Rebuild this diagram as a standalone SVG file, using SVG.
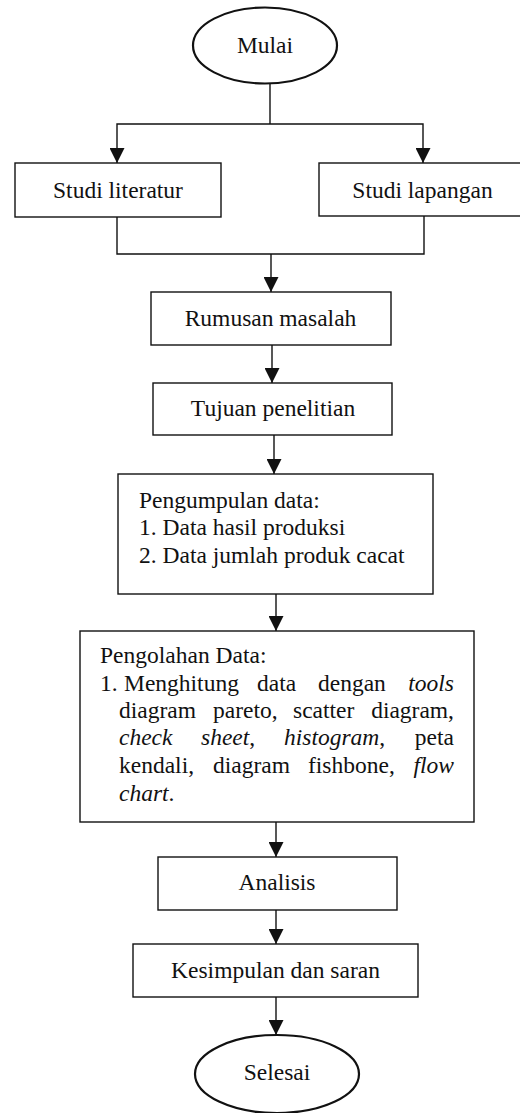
<svg xmlns="http://www.w3.org/2000/svg" width="520" height="1113" viewBox="0 0 520 1113">
<style>
text{font-family:'Liberation Serif','Times New Roman',serif;font-size:23.5px;fill:#111}
.c{text-anchor:middle}
.e{text-anchor:end}
.i{font-style:italic}
.box{fill:#fff;stroke:#111;stroke-width:1.4}
.oval{fill:#fff;stroke:#111;stroke-width:2.2}
.ln{fill:none;stroke:#111;stroke-width:1.4}
.ar{marker-end:url(#ah)}
</style>
<defs>
<marker id="ah" markerUnits="userSpaceOnUse" markerWidth="15" markerHeight="15" refX="15" refY="7.5" orient="auto" viewBox="0 0 15 15">
<path d="M0,0 L15,7.5 L0,15 z" fill="#111"/>
</marker>
</defs>
<rect width="520" height="1113" fill="#fff"/>
<g id="connectors">
<path class="ln" d="M270,83 V124"/>
<path class="ln ar" d="M270,124 H117 V163"/>
<path class="ln ar" d="M270,124 H423 V163"/>
<path class="ln" d="M117,217 V254 H424 V216"/>
<path class="ln ar" d="M271,254 V292"/>
<path class="ln ar" d="M272,345 V383"/>
<path class="ln ar" d="M274,435 V474"/>
<path class="ln ar" d="M276,594 V631"/>
<path class="ln ar" d="M276,822 V857"/>
<path class="ln ar" d="M276,910 V944"/>
<path class="ln ar" d="M276,997 V1035"/>
</g>
<g id="mulai">
<ellipse class="oval" cx="265" cy="45.5" rx="72" ry="38"/>
<text class="c" x="265" y="53">Mulai</text>
</g>
<g id="studi-literatur">
<rect class="box" x="15" y="163" width="206" height="54"/>
<text class="c" x="118" y="198">Studi literatur</text>
</g>
<g id="studi-lapangan">
<rect class="box" x="319" y="163" width="205" height="53"/>
<text class="c" x="422.5" y="198">Studi lapangan</text>
</g>
<g id="rumusan-masalah">
<rect class="box" x="151" y="292" width="240" height="53"/>
<text class="c" x="270.5" y="326">Rumusan masalah</text>
</g>
<g id="tujuan-penelitian">
<rect class="box" x="153" y="383" width="239" height="52"/>
<text class="c" x="273" y="416">Tujuan penelitian</text>
</g>
<g id="pengumpulan-data">
<rect class="box" x="118" y="474" width="315" height="120"/>
<text x="139" y="508">Pengumpulan data:</text>
<text x="139" y="535">1. Data hasil produksi</text>
<text x="139" y="563">2. Data jumlah produk cacat</text>
</g>
<g id="pengolahan-data">
<rect class="box" x="80" y="631" width="394" height="191"/>
<text x="100" y="663">Pengolahan Data:</text>
<text x="100" y="691">1.</text>
<text x="124" y="691">Menghitung</text>
<text x="257" y="691">data</text>
<text x="318" y="691">dengan</text>
<text class="e i" x="454" y="691">tools</text>
<text x="119" y="718">diagram</text>
<text x="213" y="718">pareto,</text>
<text x="293" y="718">scatter</text>
<text class="e" x="454" y="718">diagram,</text>
<text class="i" x="119" y="745">check</text>
<text x="201" y="745"><tspan class="i">sheet</tspan>,</text>
<text x="284" y="745"><tspan class="i">histogram</tspan>,</text>
<text class="e" x="454" y="745">peta</text>
<text x="119" y="773">kendali,</text>
<text x="213" y="773">diagram</text>
<text x="308" y="773">fishbone,</text>
<text class="e i" x="454" y="773">flow</text>
<text x="119" y="801"><tspan class="i">chart</tspan>.</text>
</g>
<g id="analisis">
<rect class="box" x="158" y="857" width="239" height="53"/>
<text class="c" x="277" y="890">Analisis</text>
</g>
<g id="kesimpulan-dan-saran">
<rect class="box" x="133" y="944" width="285" height="53"/>
<text class="c" x="275.5" y="978">Kesimpulan dan saran</text>
</g>
<g id="selesai">
<ellipse class="oval" cx="277" cy="1074" rx="82" ry="39"/>
<text class="c" x="277" y="1080">Selesai</text>
</g>
</svg>
